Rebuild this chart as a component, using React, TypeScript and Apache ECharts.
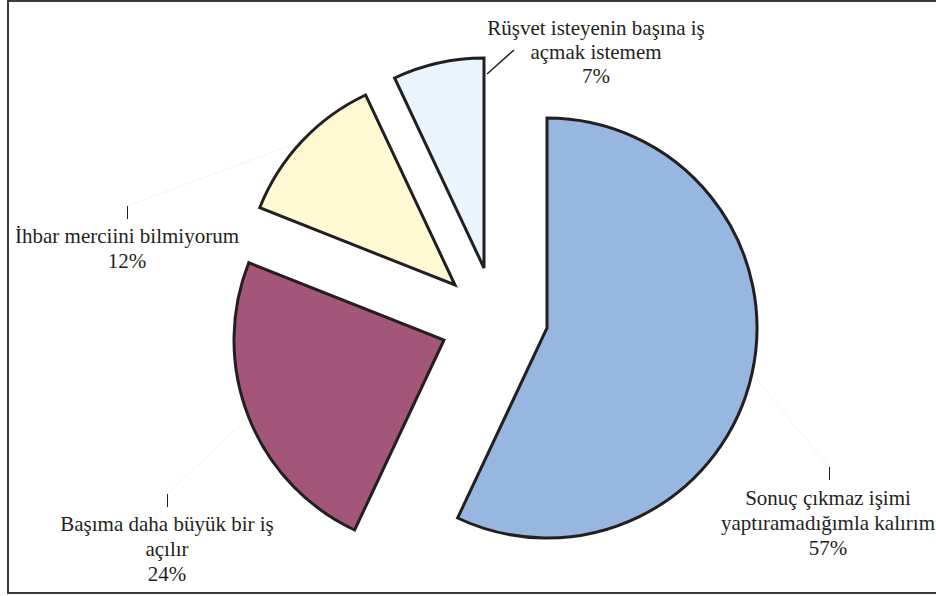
import React, { useEffect, useRef } from "react";
import * as echarts from "echarts";

const categories = [
  "Sonuç çıkmaz işimi\nyaptıramadığımla kalırım",
  "Başıma daha büyük bir iş\naçılır",
  "İhbar merciini bilmiyorum",
  "Rüşvet isteyenin başına iş\naçmak istemem",
];
const values = [57, 24, 12, 7];
const colors = ["#97B6E0", "#A4557A", "#FFF9D4", "#EBF5FD"];

// layout (pixels)
const centers = [
  [547, 328],
  [444, 340],
  [455, 285],
  [484, 268],
];
const R = 210;
const labelPos = [
  [828, 485],
  [167, 511],
  [127, 223],
  [596, 16],
];
const tickTops = [467, 494, 206];

export default function App() {
  const ref = useRef<HTMLDivElement>(null);
  useEffect(() => {
    const chart = echarts.init(ref.current!, null, { renderer: "svg" });
    const total = values.reduce((a, b) => a + b, 0);
    const series: any[] = values.map((_, i) => ({
      type: "pie",
      center: centers[i],
      radius: R,
      startAngle: 90,
      clockwise: true,
      silent: true,
      label: { show: false },
      labelLine: { show: false },
      emphasis: { disabled: true },
      data: values.map((v, j) => ({
        value: v,
        name: categories[j],
        itemStyle:
          j === i
            ? { color: colors[j], borderColor: "#231F20", borderWidth: 3, borderJoin: "miter" }
            : { color: "transparent", borderWidth: 0, opacity: 0 },
      })),
    }));

    const graphic: any[] = [];
    // frame
    graphic.push({ type: "line", shape: { x1: 8, y1: 1, x2: 936, y2: 1 }, style: { stroke: "#3a3a3a", lineWidth: 2 } });
    graphic.push({ type: "line", shape: { x1: 8, y1: 0, x2: 8, y2: 594 }, style: { stroke: "#3a3a3a", lineWidth: 2 } });
    graphic.push({ type: "line", shape: { x1: 8, y1: 593, x2: 936, y2: 593 }, style: { stroke: "#3a3a3a", lineWidth: 2 } });

    let cum = 0;
    values.forEach((v, i) => {
      const mid = ((cum + v / 2) / total) * 2 * Math.PI;
      cum += v;
      const ex = centers[i][0] + R * Math.sin(mid);
      const ey = centers[i][1] - R * Math.cos(mid);
      if (i < 3) {
        const tx = labelPos[i][0] + (i === 0 ? 1 : 0);
        graphic.push({
          type: "line",
          shape: { x1: ex, y1: ey, x2: tx, y2: tickTops[i] },
          style: { stroke: "#f3f3f3", lineWidth: 1 },
        });
        graphic.push({
          type: "line",
          shape: { x1: tx + 0.5, y1: tickTops[i], x2: tx + 0.5, y2: tickTops[i] + 13 },
          style: { stroke: "#231F20", lineWidth: 1 },
        });
      } else {
        graphic.push({
          type: "line",
          shape: { x1: 487, y1: 74, x2: 514, y2: 50 },
          style: { stroke: "#231F20", lineWidth: 1.5 },
        });
      }
      graphic.push({
        type: "text",
        x: labelPos[i][0],
        y: labelPos[i][1],
        style: {
          text: `${categories[i]}\n${v}%`,
          fontFamily: "Liberation Serif",
          fontSize: 21,
          fill: "#231F20",
          align: "center",
          verticalAlign: "top",
          lineHeight: i === 3 ? 24 : 25,
        },
      });
    });

    chart.setOption({
      animation: false,
      backgroundColor: "#ffffff",
      series,
      graphic,
    });
    return () => chart.dispose();
  }, []);
  return (
    <div
      ref={ref}
      style={{ position: "fixed", left: 0, top: 0, width: 936, height: 596 }}
    />
  );
}
